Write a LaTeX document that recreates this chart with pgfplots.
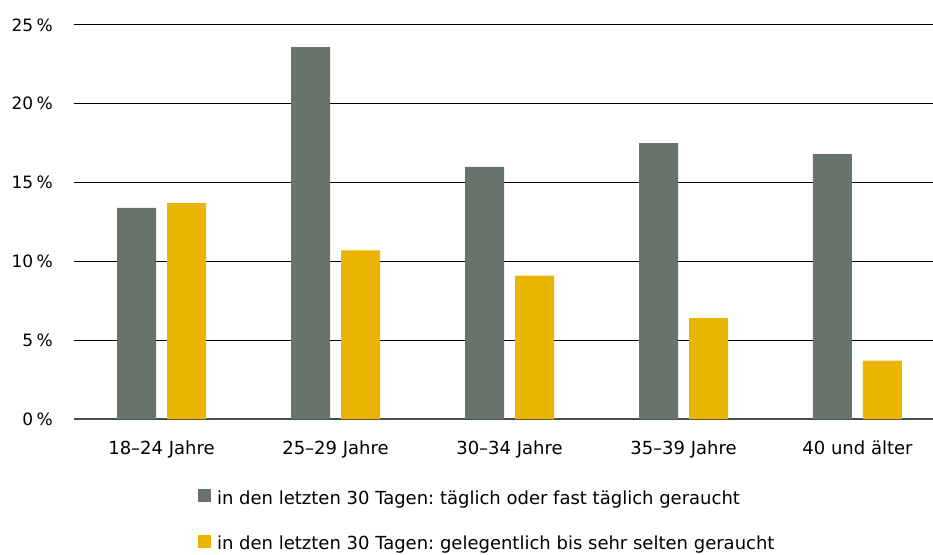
\documentclass[border=0pt]{standalone}
\usepackage{pgfplots}
\pgfplotsset{compat=1.18}
\usepackage{fontspec}
\setmainfont{DejaVu Sans}
\definecolor{cgray}{RGB}{104,116,107}
\definecolor{cyel}{RGB}{233,181,0}
\begin{document}
\frenchspacing
\begin{tikzpicture}
\begin{axis}[
  scale only axis,
  width=859pt, height=394pt,
  xmin=-0.503, xmax=4.434,
  ymin=0, ymax=25,
  ybar=11pt, bar width=39pt,
  xtick={0,1,2,3,4},
  xticklabels={18–24 Jahre,25–29 Jahre,30–34 Jahre,35–39 Jahre,40 und älter},
  ytick={0,5,10,15,20,25},
  yticklabels={0\hspace{0.2em}\%,5\hspace{0.2em}\%,10\hspace{0.2em}\%,15\hspace{0.2em}\%,20\hspace{0.2em}\%,25\hspace{0.2em}\%},
  extra y ticks={0},
  extra y tick labels={},
  extra y tick style={grid style={draw=black!70, line width=1.3pt}},
  major tick length=0pt,
  axis line style={draw=none},
  ymajorgrids,
  grid style={draw=black, line width=1pt},
  font=\fontsize{18}{21.6}\selectfont,
  /pgf/number format/assume math mode=true,
  yticklabel style={anchor=east, inner sep=0pt, xshift=-21pt, font=\fontsize{17}{20}\selectfont},
  xticklabel style={anchor=north, inner sep=0pt, yshift=-21.3pt},
  legend style={at={(axis description cs:0.1444,-0.1780)}, anchor=north west,
    draw=none, fill=none, inner sep=0pt, outer sep=0pt, row sep=29pt,
    nodes={inner sep=0pt}, font=\fontsize{18}{21.6}\selectfont},
  legend cell align=left,
  legend image code/.code={\fill[#1] (0pt,-4pt) rectangle (13pt,9pt); \path (19pt,0pt);},
]
\addplot[fill=cgray, draw=none] coordinates {(0,13.4) (1,23.6) (2,16.0) (3,17.5) (4,16.8)};
\addplot[fill=cyel, draw=none] coordinates {(0,13.7) (1,10.7) (2,9.1) (3,6.4) (4,3.7)};
\legend{in den letzten 30 Tagen: täglich oder fast täglich geraucht,in den letzten 30 Tagen: gelegentlich bis sehr selten geraucht}
\end{axis}
\pgfresetboundingbox
\path[use as bounding box] (-74pt,-135pt) rectangle (859pt,419pt);
\end{tikzpicture}
\end{document}
